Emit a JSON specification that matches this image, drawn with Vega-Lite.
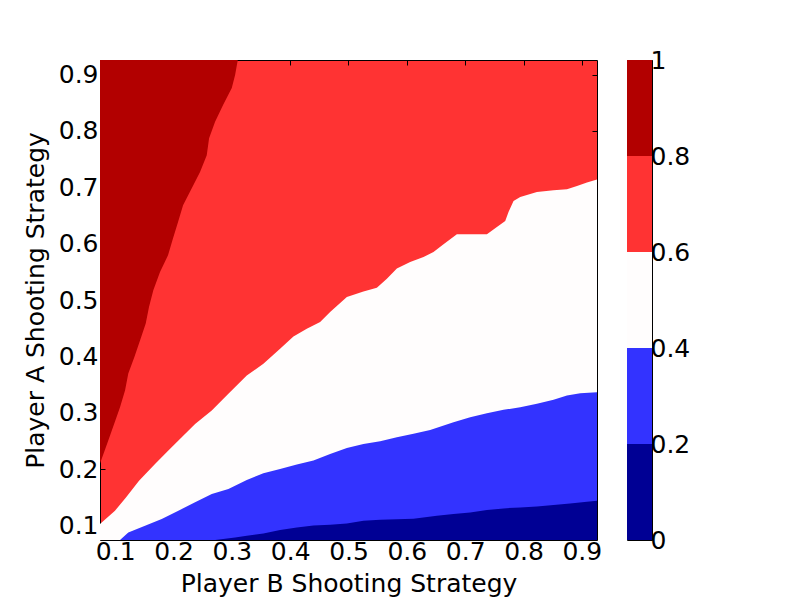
{
  "$schema": "https://vega.github.io/schema/vega-lite/v6.json",
  "background": "white",
  "padding": {"left": 22, "top": 47, "right": 5, "bottom": 0},
  "spacing": 30,
  "bounds": "flush",
  "config": {
    "font": "DejaVu Sans",
    "view": {"stroke": "black", "strokeWidth": 1},
    "axis": {
      "labelFont": "DejaVu Sans", "labelFontSize": 25, "labelColor": "black",
      "titleFont": "DejaVu Sans", "titleFontSize": 25, "titleFontWeight": "normal", "titleColor": "black",
      "tickColor": "black", "tickSize": -5, "domain": false, "grid": false, "zindex": 1, "labelPadding": 7
    }
  },
  "datasets": {
    "b4": [
      {"x": 0.074, "y": 0.2096}, {"x": 0.0882, "y": 0.2504}, {"x": 0.0985, "y": 0.2807}, {"x": 0.1083, "y": 0.3096},
      {"x": 0.1169, "y": 0.3393}, {"x": 0.1225, "y": 0.3696}, {"x": 0.1328, "y": 0.3985}, {"x": 0.1426, "y": 0.4282},
      {"x": 0.1524, "y": 0.4584}, {"x": 0.158, "y": 0.4874}, {"x": 0.1654, "y": 0.5171}, {"x": 0.1769, "y": 0.5496},
      {"x": 0.1906, "y": 0.5793}, {"x": 0.1992, "y": 0.6096}, {"x": 0.2078, "y": 0.6385}, {"x": 0.2164, "y": 0.6682},
      {"x": 0.2313, "y": 0.6984}, {"x": 0.2455, "y": 0.7274}, {"x": 0.257, "y": 0.7571}, {"x": 0.261, "y": 0.7873},
      {"x": 0.2713, "y": 0.8163}, {"x": 0.285, "y": 0.846}, {"x": 0.2999, "y": 0.8762}, {"x": 0.3056, "y": 0.8993},
      {"x": 0.3102, "y": 0.926}
    ],
    "b3": [
      {"x": 0.074, "y": 0.1024}, {"x": 0.0997, "y": 0.126}, {"x": 0.1185, "y": 0.1496}, {"x": 0.1409, "y": 0.1793},
      {"x": 0.1683, "y": 0.209}, {"x": 0.1912, "y": 0.2327}, {"x": 0.2141, "y": 0.2563}, {"x": 0.237, "y": 0.2801},
      {"x": 0.2656, "y": 0.3038}, {"x": 0.2941, "y": 0.3335}, {"x": 0.3256, "y": 0.366}, {"x": 0.3541, "y": 0.3868},
      {"x": 0.3827, "y": 0.4135}, {"x": 0.4056, "y": 0.4353}, {"x": 0.4285, "y": 0.449}, {"x": 0.4514, "y": 0.4608},
      {"x": 0.4685, "y": 0.4785}, {"x": 0.4972, "y": 0.5052}, {"x": 0.5256, "y": 0.5153}, {"x": 0.5486, "y": 0.5219},
      {"x": 0.5658, "y": 0.5379}, {"x": 0.5829, "y": 0.5557}, {"x": 0.6057, "y": 0.5674}, {"x": 0.6286, "y": 0.5763},
      {"x": 0.6457, "y": 0.5852}, {"x": 0.6629, "y": 0.5989}, {"x": 0.6858, "y": 0.6167}, {"x": 0.7373, "y": 0.6167},
      {"x": 0.7544, "y": 0.6296}, {"x": 0.7687, "y": 0.6403}, {"x": 0.7743, "y": 0.6563}, {"x": 0.7829, "y": 0.6759},
      {"x": 0.7944, "y": 0.683}, {"x": 0.823, "y": 0.6919}, {"x": 0.8515, "y": 0.6949}, {"x": 0.8745, "y": 0.6967},
      {"x": 0.8917, "y": 0.7025}, {"x": 0.9088, "y": 0.7086}, {"x": 0.926, "y": 0.7139}
    ],
    "b2": [
      {"x": 0.1083, "y": 0.074}, {"x": 0.1225, "y": 0.0874}, {"x": 0.1512, "y": 0.0993}, {"x": 0.1798, "y": 0.1112},
      {"x": 0.2083, "y": 0.126}, {"x": 0.237, "y": 0.1408}, {"x": 0.2656, "y": 0.1557}, {"x": 0.2941, "y": 0.1646},
      {"x": 0.3256, "y": 0.1806}, {"x": 0.3541, "y": 0.1923}, {"x": 0.3827, "y": 0.2001}, {"x": 0.4114, "y": 0.2078},
      {"x": 0.4399, "y": 0.2149}, {"x": 0.4685, "y": 0.2268}, {"x": 0.4972, "y": 0.2375}, {"x": 0.5256, "y": 0.2446},
      {"x": 0.5543, "y": 0.2492}, {"x": 0.5829, "y": 0.2563}, {"x": 0.6114, "y": 0.2624}, {"x": 0.64, "y": 0.2691},
      {"x": 0.68, "y": 0.283}, {"x": 0.7086, "y": 0.2919}, {"x": 0.7373, "y": 0.299}, {"x": 0.7658, "y": 0.305},
      {"x": 0.7944, "y": 0.3096}, {"x": 0.823, "y": 0.3157}, {"x": 0.8515, "y": 0.3228}, {"x": 0.8745, "y": 0.3304},
      {"x": 0.8973, "y": 0.3345}, {"x": 0.926, "y": 0.3363}
    ],
    "b1": [
      {"x": 0.2713, "y": 0.074}, {"x": 0.3056, "y": 0.0785}, {"x": 0.3256, "y": 0.0816}, {"x": 0.3541, "y": 0.0856},
      {"x": 0.3827, "y": 0.0917}, {"x": 0.4114, "y": 0.0963}, {"x": 0.4399, "y": 0.0999}, {"x": 0.4685, "y": 0.1011},
      {"x": 0.4972, "y": 0.1034}, {"x": 0.5256, "y": 0.1082}, {"x": 0.5543, "y": 0.11}, {"x": 0.6114, "y": 0.1118},
      {"x": 0.6515, "y": 0.1171}, {"x": 0.68, "y": 0.1201}, {"x": 0.7086, "y": 0.123}, {"x": 0.7373, "y": 0.1272},
      {"x": 0.7658, "y": 0.1301}, {"x": 0.7944, "y": 0.1319}, {"x": 0.823, "y": 0.1336}, {"x": 0.8515, "y": 0.1361},
      {"x": 0.8799, "y": 0.139}, {"x": 0.9088, "y": 0.142}, {"x": 0.926, "y": 0.1438}
    ],
    "bands": [
      {"lo": 0, "hi": 0.2, "band": "0-0.2"},
      {"lo": 0.2, "hi": 0.4, "band": "0.2-0.4"},
      {"lo": 0.4, "hi": 0.6, "band": "0.4-0.6"},
      {"lo": 0.6, "hi": 0.8, "band": "0.6-0.8"},
      {"lo": 0.8, "hi": 1, "band": "0.8-1"}
    ]
  },
  "hconcat": [
    {
      "width": 497,
      "height": 480,
      "view": {"fill": "#ff3333", "stroke": "black", "strokeWidth": 1},
      "resolve": {"axis": {"x": "independent", "y": "independent"}},
      "layer": [
        {
          "data": {"name": "b4"},
          "mark": {"type": "area", "color": "#b20000", "clip": true},
          "encoding": {
            "x": {"field": "x", "type": "quantitative", "scale": {"domain": [0.074, 0.926], "nice": false, "zero": false},
                  "axis": {"orient": "bottom", "values": [0.1, 0.2, 0.3, 0.4, 0.5, 0.6, 0.7, 0.8, 0.9], "format": ".1f",
                           "title": "Player B Shooting Strategy", "titlePadding": 7, "labelPadding": 4}},
            "y": {"field": "y", "type": "quantitative", "stack": null, "scale": {"domain": [0.074, 0.926], "nice": false, "zero": false},
                  "axis": {"orient": "left", "values": [0.1, 0.2, 0.3, 0.4, 0.5, 0.6, 0.7, 0.8, 0.9], "format": ".1f",
                           "title": "Player A Shooting Strategy", "titlePadding": 10}},
            "y2": {"datum": 0.926}
          }
        },
        {
          "data": {"name": "b3"},
          "mark": {"type": "area", "color": "#fffdfd", "clip": true},
          "encoding": {
            "x": {"field": "x", "type": "quantitative", "axis": null},
            "y": {"field": "y", "type": "quantitative", "stack": null, "axis": null},
            "y2": {"datum": 0.074}
          }
        },
        {
          "data": {"name": "b2"},
          "mark": {"type": "area", "color": "#3333ff", "clip": true},
          "encoding": {
            "x": {"field": "x", "type": "quantitative", "axis": null},
            "y": {"field": "y", "type": "quantitative", "stack": null, "axis": null},
            "y2": {"datum": 0.074}
          }
        },
        {
          "data": {"name": "b1"},
          "mark": {"type": "area", "color": "#000094", "clip": true},
          "encoding": {
            "x": {"field": "x", "type": "quantitative", "axis": null},
            "y": {"field": "y", "type": "quantitative", "stack": null, "axis": null},
            "y2": {"datum": 0.074}
          }
        },
        {
          "data": {"name": "b1"},
          "mark": {"type": "point", "opacity": 0},
          "encoding": {
            "x": {"field": "x", "type": "quantitative",
                  "axis": {"orient": "top", "values": [0.1, 0.2, 0.3, 0.4, 0.5, 0.6, 0.7, 0.8, 0.9], "labels": false, "title": null}},
            "y": {"field": "y", "type": "quantitative",
                  "axis": {"orient": "right", "values": [0.1, 0.2, 0.3, 0.4, 0.5, 0.6, 0.7, 0.8, 0.9], "labels": false, "title": null}}
          }
        }
      ]
    },
    {
      "width": 25,
      "height": 480,
      "view": {"stroke": "black", "strokeWidth": 1},
      "data": {"name": "bands"},
      "mark": {"type": "rect"},
      "encoding": {
        "y": {"field": "lo", "type": "quantitative", "scale": {"domain": [0, 1], "nice": false},
              "axis": {"orient": "right", "values": [0, 0.2, 0.4, 0.6, 0.8, 1], "format": "~g", "title": null, "labelPadding": 3}},
        "y2": {"field": "hi"},
        "color": {"field": "band", "type": "nominal", "legend": null,
                  "scale": {"domain": ["0-0.2", "0.2-0.4", "0.4-0.6", "0.6-0.8", "0.8-1"],
                            "range": ["#000094", "#3333ff", "#fffdfd", "#ff3333", "#b20000"]}}
      }
    }
  ]
}
